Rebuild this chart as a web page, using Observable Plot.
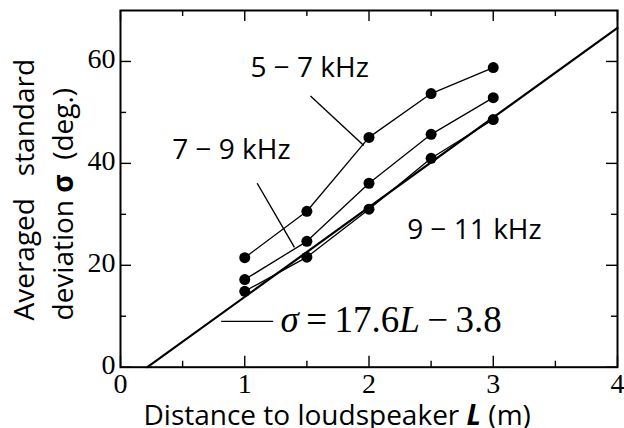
<!DOCTYPE html>
<html><head><meta charset="utf-8">
<script src="https://cdn.jsdelivr.net/npm/d3@7"></script>
<script src="https://cdn.jsdelivr.net/npm/@observablehq/plot@0.6"></script>
<style>
body{margin:0;background:#fff}
svg{display:block}
svg text{white-space:pre}
</style>
</head><body><div id="chart"></div>
<script>
// ---- data ----
const distances = [1, 1.5, 2, 2.5, 3];
const bands = ["5 − 7 kHz", "7 − 9 kHz", "9 − 11 kHz"];
const sigma5to7 = [21.5, 30.6, 45.1, 53.7, 58.8];
const sigma7to9 = [17.2, 24.7, 36.1, 45.7, 52.9];
const sigma9to11 = [14.9, 21.6, 31.0, 41.0, 48.6];
const fitL = [0.216, 4];
const fitSigma = [0, 66.6];
const fitText = "σ\u2009=\u200917.6L\u2009−\u20093.8";
const xTicksMajor = [0, 1, 2, 3, 4];
const xTicksMinor = [0.5, 1.5, 2.5, 3.5];
const yTicksMajor = [0, 20, 40, 60];
const yTicksMinor = [10, 30, 50];
// annotation anchors (data units)
const labelL = [1.046, 0.416, 2.308];
const labelSigma = [56.9, 40.9, 25.2];
const leaderL1 = [1.529, 1.100, 0.810];
const leaderS1 = [53.2, 36.1, 9.0];
const leaderL2 = [1.958, 1.400, 1.229];
const leaderS2 = [43.5, 23.5, 9.0];
const fitLabelL = 1.288, fitLabelSigma = 7.0;
const yTitle1 = "Averaged   standard";
const yTitle2 = "deviation σ  (deg.)";
const xTitle = "Distance to loudspeaker L (m)";

// ---- build tables ----
const seriesValues = [sigma5to7, sigma7to9, sigma9to11];
const points = bands.flatMap((b, k) => distances.map((L, i) => ({band: b, L, sigma: seriesValues[k][i]})));
const fit = fitL.map((L, i) => ({L, sigma: fitSigma[i]}));
const labels = bands.map((b, i) => ({text: b, L: labelL[i], sigma: labelSigma[i]}));
const leaders = leaderL1.map((_, i) => ({x1: leaderL1[i], y1: leaderS1[i], x2: leaderL2[i], y2: leaderS2[i]}));

const W = 624, H = 428, mL = 120, mR = 7, mT = 10, mB = 61.3;
const innerW = W - mL - mR, innerH = H - mT - mB;
const majorLen = 11, minorLen = 6;
const sans = "'Open Sans', 'Noto Sans', sans-serif";
const serif = "'Liberation Serif', 'DejaVu Serif', serif";

const chart = Plot.plot({
  width: W, height: H,
  marginLeft: mL, marginRight: mR, marginTop: mT, marginBottom: mB,
  x: {domain: [0, 4], label: null},
  y: {domain: [0, 70], label: null},
  style: {background: "#fff", color: "#000"},
  marks: [
    Plot.axisX(xTicksMajor, {tickSize: 0, tickPadding: 6, fontSize: 28, fontFamily: serif, label: null, tickFormat: d => d}),
    Plot.axisY(yTicksMajor, {tickSize: 0, tickPadding: 5, fontSize: 28, fontFamily: serif, label: null, tickFormat: d => d, dy: -2}),
    // inward ticks, bottom & top
    Plot.tickX(xTicksMajor, {x: d => d, insetTop: innerH - majorLen, strokeWidth: 1.4}),
    Plot.tickX(xTicksMinor, {x: d => d, insetTop: innerH - minorLen, strokeWidth: 1.4}),
    Plot.tickX(xTicksMajor, {x: d => d, insetBottom: innerH - majorLen, strokeWidth: 1.4}),
    Plot.tickX(xTicksMinor, {x: d => d, insetBottom: innerH - minorLen, strokeWidth: 1.4}),
    // inward ticks, left & right
    Plot.tickY(yTicksMajor, {y: d => d, insetRight: innerW - majorLen, strokeWidth: 1.4}),
    Plot.tickY(yTicksMinor, {y: d => d, insetRight: innerW - minorLen, strokeWidth: 1.4}),
    Plot.tickY(yTicksMajor, {y: d => d, insetLeft: innerW - majorLen, strokeWidth: 1.4}),
    Plot.tickY(yTicksMinor, {y: d => d, insetLeft: innerW - minorLen, strokeWidth: 1.4}),
    // fit line
    Plot.line(fit, {x: "L", y: "sigma", stroke: "#000", strokeWidth: 2.2}),
    // data series
    Plot.line(points, {x: "L", y: "sigma", z: "band", stroke: "#000", strokeWidth: 1.3}),
    Plot.dot(points, {x: "L", y: "sigma", r: 5.5, fill: "#000", stroke: "none"}),
    // leaders
    Plot.link(leaders, {x1: "x1", y1: "y1", x2: "x2", y2: "y2", stroke: "#000", strokeWidth: 1.4}),
    // labels
    Plot.text(labels, {x: "L", y: "sigma", text: "text", textAnchor: "start", lineAnchor: "bottom", fontSize: 28, fontFamily: sans, fill: "#000"}),
    Plot.text([fitText], {x: () => fitLabelL, y: () => fitLabelSigma, text: d => d, textAnchor: "start", lineAnchor: "bottom", fontSize: 37, fontFamily: serif, fill: "#000"}),
    // axis titles
    Plot.text([yTitle1], {text: d => d, frameAnchor: "bottom-left", rotate: -90, textAnchor: "start", lineAnchor: "bottom", dx: -87, dy: -46.7, fontSize: 28, fontFamily: sans, fill: "#000"}),
    Plot.text([yTitle2], {text: d => d, frameAnchor: "bottom-left", rotate: -90, textAnchor: "start", lineAnchor: "bottom", dx: -48, dy: -46.7, fontSize: 28, fontFamily: sans, fill: "#000"}),
    Plot.text([xTitle], {text: d => d, frameAnchor: "bottom-left", textAnchor: "start", lineAnchor: "bottom", dx: 23, dy: 57.5, fontSize: 28, fontFamily: sans, fill: "#000"}),
    Plot.frame({stroke: "#000", strokeWidth: 2})
  ]
});

// rich-text styling (italic / bold symbols)
chart.querySelectorAll("text").forEach(t => {
  const s = t.textContent;
  if (s === fitText) {
    t.innerHTML = '<tspan font-style="italic">σ</tspan>\u2009=\u200917.6<tspan font-style="italic">L</tspan>\u2009−\u20093.8';
  } else if (s === yTitle2) {
    t.innerHTML = 'deviation <tspan font-weight="bold">σ</tspan>  (deg.)';
  } else if (s === xTitle) {
    t.innerHTML = 'Distance to loudspeaker <tspan font-weight="bold" font-style="italic">L</tspan> (m)';
  }
});
document.getElementById("chart").appendChild(chart);
</script>
</body></html>
